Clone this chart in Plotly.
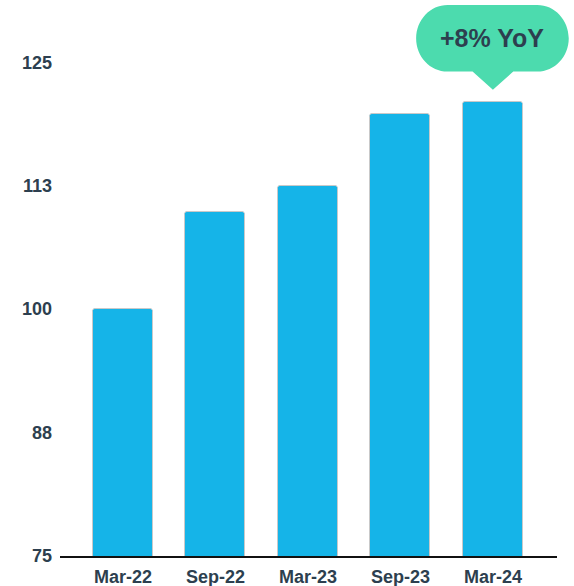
import plotly.graph_objects as go

# Index values by half-year period
periods = ["Mar-22", "Sep-22", "Mar-23", "Sep-23", "Mar-24"]
values = [100, 109.8, 112.5, 119.8, 121]
y_ticks = [75, 87.5, 100, 112.5, 125]
y_tick_labels = ["75", "88", "100", "113", "125"]
callout_text = "+8% YoY"

BAR = "#15B4E8"
GREEN = "#4CDBAE"
INK = "#2d3f4f"
FONT = "Liberation Sans, Arial, sans-serif"

X_RANGE = [-0.68, 4.693]
Y_RANGE = [75, 131.3]


def px(x):
    """Data x -> paper fraction (paper shapes are not clipped to the plot)."""
    return (x - X_RANGE[0]) / (X_RANGE[1] - X_RANGE[0])


def py(y):
    return (y - Y_RANGE[0]) / (Y_RANGE[1] - Y_RANGE[0])


fig = go.Figure()
fig.add_trace(go.Bar(
    x=list(range(len(periods))),
    y=values,
    width=0.65,
    marker=dict(color=BAR, line=dict(color="#c9c9c9", width=1), cornerradius=3),
    hoverinfo="skip",
))

# Speech-bubble callout above the latest bar
last_i = len(values) - 1
tip_y = values[-1] + 1.2
x0, x1 = px(last_i - 0.83), px(last_i + 0.82)
y0, y1 = py(tip_y + 1.85), py(tip_y + 8.6)
rx = px(last_i + 0.34) - px(last_i)
ry = (y1 - y0) / 2
bx0, bx1 = px(last_i - 0.22), px(last_i + 0.22)
tx, ty = px(last_i), py(tip_y)
k = 1 - 0.5523
path = (
    f"M {x0 + rx},{y1} L {x1 - rx},{y1} "
    f"C {x1 - rx * k},{y1} {x1},{y1 - ry * k} {x1},{y1 - ry} "
    f"L {x1},{y0 + ry} "
    f"C {x1},{y0 + ry * k} {x1 - rx * k},{y0} {x1 - rx},{y0} "
    f"L {bx1},{y0} L {tx},{ty} L {bx0},{y0} "
    f"L {x0 + rx},{y0} "
    f"C {x0 + rx * k},{y0} {x0},{y0 + ry * k} {x0},{y0 + ry} "
    f"L {x0},{y1 - ry} "
    f"C {x0},{y1 - ry * k} {x0 + rx * k},{y1} {x0 + rx},{y1} Z"
)
fig.add_shape(type="path", path=path, xref="paper", yref="paper",
              fillcolor=GREEN, line=dict(width=0), layer="above")
fig.add_annotation(x=(x0 + x1) / 2, y=(y0 + y1) / 2, xref="paper", yref="paper",
                   xanchor="center", yanchor="middle",
                   text=f"<b>{callout_text}</b>", showarrow=False,
                   font=dict(size=25, color=INK, family=FONT))

fig.update_layout(
    width=574, height=586,
    margin=dict(l=60, r=17, t=0, b=30),
    plot_bgcolor="white", paper_bgcolor="white",
    showlegend=False,
    bargap=0,
    font=dict(family=FONT, size=18, color=INK),
)
fig.update_xaxes(
    range=X_RANGE,
    tickmode="array",
    tickvals=list(range(len(periods))),
    ticktext=[f"<b>{p}</b>" for p in periods],
    showline=True, linecolor="#111111", linewidth=1.5,
    showgrid=False, zeroline=False, ticks="",
    ticklabelstandoff=4,
    tickfont=dict(size=18, color=INK),
)
fig.update_yaxes(
    range=Y_RANGE,
    tickmode="array",
    tickvals=y_ticks,
    ticktext=[f"<b>{t}</b>" for t in y_tick_labels],
    showline=False, showgrid=False, zeroline=False, ticks="",
    ticklabelstandoff=7,
    tickfont=dict(size=18, color=INK),
)

fig.write_html("out.html")
